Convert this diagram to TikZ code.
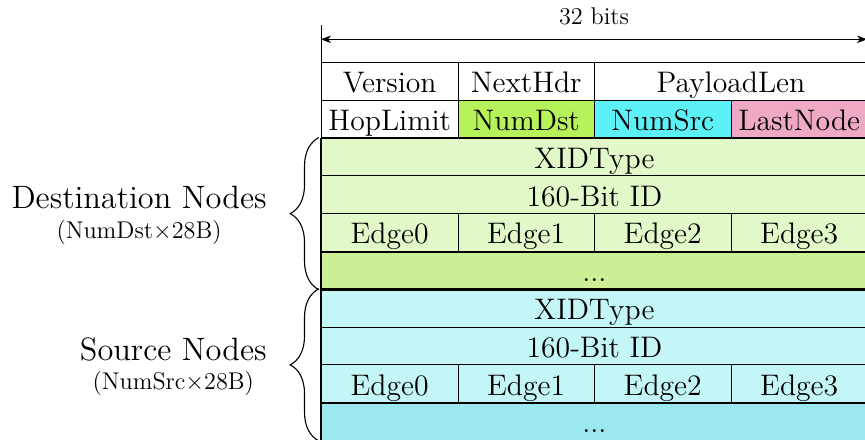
\documentclass[tikz,border=0pt]{standalone}
\usetikzlibrary{arrows.meta,decorations.pathreplacing,calc}

\definecolor{dstbright}{HTML}{B6F25A}
\definecolor{srcbright}{HTML}{5CF0F7}
\definecolor{lastpink}{HTML}{EFA8C5}
\definecolor{dstlight}{HTML}{E3F8C9}
\definecolor{dstmid}{HTML}{CCEE95}
\definecolor{srclight}{HTML}{C5F6F7}
\definecolor{srcmid}{HTML}{9BE9EE}

\newcommand\cellfont{\fontsize{13.5pt}{16pt}\selectfont}
\newcommand\bigfont{\fontsize{14.7pt}{17pt}\selectfont}
\newcommand\smallfont{\fontsize{11pt}{13pt}\selectfont}

\begin{document}
\begin{tikzpicture}[x=0.4545pt,y=-0.4545pt,
  cell/.style={draw, line width=0.4pt, inner sep=0pt, anchor=north west,
    minimum width=62.04pt, minimum height=17.18pt,
    text height=10.3pt, text depth=0pt, font=\cellfont},
  wide/.style={cell, minimum width=124.08pt},
  full/.style={cell, minimum width=248.16pt},
  boldline/.style={line width=1.1pt},
  bracestyle/.style={decorate, decoration={brace, amplitude=13pt}, line width=0.5pt},
  biglabel/.style={font=\bigfont, inner sep=0pt},
  smalllabel/.style={font=\smallfont, inner sep=0pt}]

\clip (0,0) rectangle (865,440);

% fixed header
\node[cell] (version) at (321,62) {Version};
\node[cell] (nexthdr) at (457.5,62) {NextHdr};
\node[wide] (payload) at (594,62) {PayloadLen};
\node[cell] (hop) at (321,99.8) {HopLimit};
\node[cell, fill=dstbright] (numdst) at (457.5,99.8) {NumDst};
\node[cell, fill=srcbright] (numsrc) at (594,99.8) {NumSrc};
\node[cell, fill=lastpink] (lastnode) at (730.5,99.8) {LastNode};

% destination node entries
\node[full, fill=dstlight] (dtype) at (321,137.6) {XIDType};
\node[full, fill=dstlight] (did) at (321,175.4) {160-Bit ID};
\node[cell, fill=dstlight] (de0) at (321,213.2) {Edge0};
\node[cell, fill=dstlight] (de1) at (457.5,213.2) {Edge1};
\node[cell, fill=dstlight] (de2) at (594,213.2) {Edge2};
\node[cell, fill=dstlight] (de3) at (730.5,213.2) {Edge3};
\node[full, fill=dstmid] (ddots) at (321,251) {...};

% source node entries
\node[full, fill=srclight] (stype) at (321,288.8) {XIDType};
\node[full, fill=srclight] (sid) at (321,326.6) {160-Bit ID};
\node[cell, fill=srclight] (se0) at (321,364.4) {Edge0};
\node[cell, fill=srclight] (se1) at (457.5,364.4) {Edge1};
\node[cell, fill=srclight] (se2) at (594,364.4) {Edge2};
\node[cell, fill=srclight] (se3) at (730.5,364.4) {Edge3};
\node[full, fill=srcmid] (sdots) at (321,402.2) {...};

% heavier separators
\draw[line width=0.6pt] (dtype.north west) -- (dtype.north east);
\draw[boldline] (dtype.north west) -- (sdots.south west);
\draw[boldline] (de0.south west) -- (de3.south east);
\draw[boldline] (ddots.south west) -- (ddots.south east);
\draw[boldline] (se0.south west) -- (se3.south east);
\draw[boldline] (sdots.south west) -- (sdots.south east);

% width marker
\coordinate (tickL) at (321,25);
\coordinate (tickR) at (867,25);
\coordinate (arrL) at (321,39.3);
\coordinate (arrR) at (867,39.3);
\draw (tickL) -- (version.north west);
\draw (tickR) -- (payload.north east);
\draw[{Stealth[length=4.5pt,width=3.4pt,inset=1.3pt]}-{Stealth[length=4.5pt,width=3.4pt,inset=1.3pt]}] (arrL) -- (arrR);
\node[smalllabel, anchor=base] (bits) at (594,25) {32 bits};

% group braces
\draw[bracestyle] ([xshift=-1pt]ddots.south west) -- ([xshift=-1pt]dtype.north west);
\draw[bracestyle] ([xshift=-1pt]sdots.south west) -- ([xshift=-1pt]stype.north west);

% group labels
\node[biglabel, anchor=base east] (dstname) at (267,208.3) {Destination Nodes};
\node[smalllabel, anchor=base] (dstsize) at ($(dstname.base)+(0,29.7)$) {(NumDst$\times$28B)};
\node[biglabel, anchor=base east] (srcname) at (267,360) {Source Nodes};
\node[smalllabel, anchor=base] (srcsize) at ($(srcname.base)+(0,29.7)$) {(NumSrc$\times$28B)};

\end{tikzpicture}
\end{document}
